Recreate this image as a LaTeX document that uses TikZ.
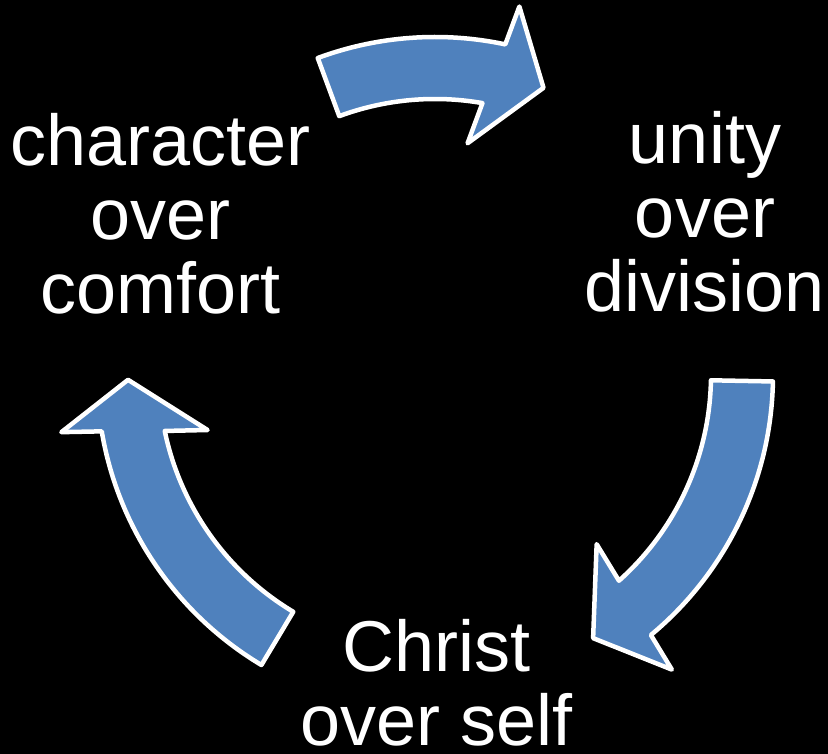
\documentclass[tikz,border=0pt]{standalone}
\usepackage{fontspec}
\setmainfont{Liberation Sans}
\definecolor{arrowblue}{RGB}{79,129,189}
\newcommand\cyclearrow[2]{%
  \filldraw[cyclearrowstyle] (#1:338) arc[start angle=#1, end angle=#2+8.7, radius=338]
    -- (#2+7.8:378) -- (#2:307) -- (#2+12.7:234) -- (#2+10.8:276)
    arc[start angle=#2+10.8, end angle=#1, radius=276] -- cycle;}
\tikzset{
  cyclearrowstyle/.style={fill=arrowblue, draw=white, line width=4.5pt, line join=round},
  label text/.style={text=white, align=center, inner sep=0pt, anchor=base,
    font=\fontsize{72}{74}\selectfont}
}
\begin{document}
\begin{tikzpicture}[x=1pt,y=1pt]
\useasboundingbox (0,0) rectangle (828,754);
\fill[black] (0,0) rectangle (828,754);
\begin{scope}[shift={(435,379)}]
  \cyclearrow{110.3}{69.3}
  \cyclearrow{-1.1}{-59.0}
  \cyclearrow{239.1}{180.9}
\end{scope}
\node[label text] (character) at (160.5,440) {character\\over\\comfort};
\node[label text] (unity) at (705,442) {unity\\over\\division};
\node[label text] (christ) at (436.5,8) {Christ\\over self};
\end{tikzpicture}
\end{document}
